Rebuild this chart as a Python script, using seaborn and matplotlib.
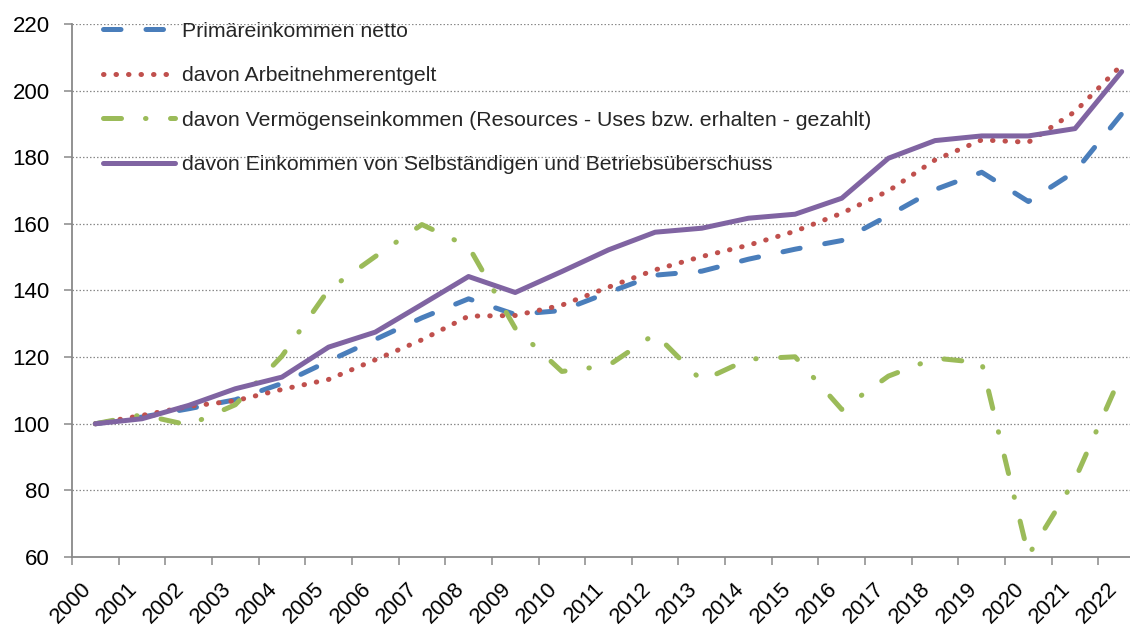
import matplotlib
matplotlib.use("Agg")
import matplotlib.pyplot as plt
import seaborn as sns
import pandas as pd
import numpy as np
from matplotlib.ticker import FixedLocator, NullFormatter, FixedFormatter

years = [str(y) for y in range(2000, 2023)]

primaer = [100, 102, 104.5, 107.2, 112.1, 118.8, 125.3, 131.8, 137.5, 132.8, 134.0,
           139.4, 144.6, 145.8, 149.4, 152.4, 155.0, 162.5, 170.3, 175.5, 166.7, 175.7, 193.0]
arbeit = [100, 102.5, 105.2, 106.9, 110.3, 113.3, 119.2, 125.2, 132.3, 132.5, 135.6,
          141.0, 146.2, 150.2, 153.6, 157.8, 163.2, 169.9, 179.2, 185.2, 184.5, 193.7, 207.7]
vermoegen = [100, 102.7, 99.6, 105.7, 120.3, 140.2, 150.2, 159.8, 153.2, 128.7, 115.7,
             117.5, 127.0, 112.9, 119.4, 120.1, 104.3, 114.3, 119.7, 118.3, 60.5, 83.3, 115.0]
selbst = [100, 101.5, 105.5, 110.5, 114.0, 123.0, 127.5, 135.8, 144.2, 139.4, 145.7,
          152.2, 157.5, 158.7, 161.7, 162.9, 167.7, 179.7, 185.0, 186.4, 186.4, 188.6, 205.7]

labels = [
    "Primäreinkommen netto",
    "davon Arbeitnehmerentgelt",
    "davon Vermögenseinkommen (Resources - Uses bzw. erhalten - gezahlt)",
    "davon Einkommen von Selbständigen und Betriebsüberschuss",
]
series = [primaer, arbeit, vermoegen, selbst]
colors = ["#4A7EBB", "#C0504D", "#9BBB59", "#8064A2"]
dash_patterns = [(3.5, 5.0), (0.1, 2.4), (3.6, 4.8, 0.1, 4.9), None]

sns.set_theme(style="white")
plt.rcParams["font.family"] = ["Liberation Sans", "DejaVu Sans"]

fig = plt.figure(figsize=(11.3, 6.28), dpi=100)
ax = fig.add_axes([72 / 1130, 1 - 557 / 628, 1073 / 1130, 533 / 628])

x_idx = np.arange(len(years))
lw = 3.6
handles = []
for vals, lab, col, dp in zip(series, labels, colors, dash_patterns):
    df = pd.DataFrame({"x": x_idx, "y": vals})
    sns.lineplot(data=df, x="x", y="y", ax=ax, color=col, linewidth=lw, label=lab)
    line = ax.lines[-1]
    if dp is not None:
        line.set_dashes(dp)
    line.set_dash_capstyle("round")
    line.set_solid_capstyle("round")
    line.set_solid_joinstyle("round")
    line.set_dash_joinstyle("round")
    handles.append(line)

ax.set_xlim(-0.5, len(years) - 0.5)
ax.set_ylim(60, 220)
ax.set_yticks(np.arange(60, 221, 20))

# category axis: ticks between categories, labels at centres
ax.xaxis.set_major_locator(FixedLocator(np.arange(-0.5, len(years), 1.0)))
ax.xaxis.set_major_formatter(NullFormatter())
ax.xaxis.set_minor_locator(FixedLocator(x_idx))
ax.xaxis.set_minor_formatter(FixedFormatter(years))
ax.tick_params(axis="x", which="major", length=6, width=1.1, color="#898989", direction="out", bottom=True)
ax.tick_params(axis="x", which="minor", length=0, pad=15.5, labelsize=15.7, labelcolor="black")
for t in ax.xaxis.get_minorticklabels():
    t.set_rotation(45)
    t.set_ha("right")
    t.set_va("top")
    t.set_rotation_mode("default")

ax.tick_params(axis="y", which="major", length=6, width=1.1, color="#898989", direction="out",
               left=True, pad=10, labelsize=16, labelcolor="black")

ax.set_xlabel("")
ax.set_ylabel("")

ax.grid(False)
for yv in np.arange(80, 221, 20):
    ax.axhline(yv, color="#8a8a8a", linewidth=0.9, linestyle=(0, (1.2, 1.6)), zorder=0)

for s in ["top", "right"]:
    ax.spines[s].set_visible(False)
for s in ["left", "bottom"]:
    ax.spines[s].set_color("#898989")
    ax.spines[s].set_linewidth(1.3)

leg = ax.legend(handles=handles, labels=labels, loc="upper left",
                bbox_to_anchor=(31 / 1073, 1.004), frameon=False, fontsize=15.3,
                handlelength=3.4, handletextpad=0.32, labelspacing=1.2,
                borderpad=0, borderaxespad=0)
for h in leg.legend_handles:
    h.set_dash_capstyle("round")
    h.set_solid_capstyle("round")

fig.savefig("out.png", dpi=100)
